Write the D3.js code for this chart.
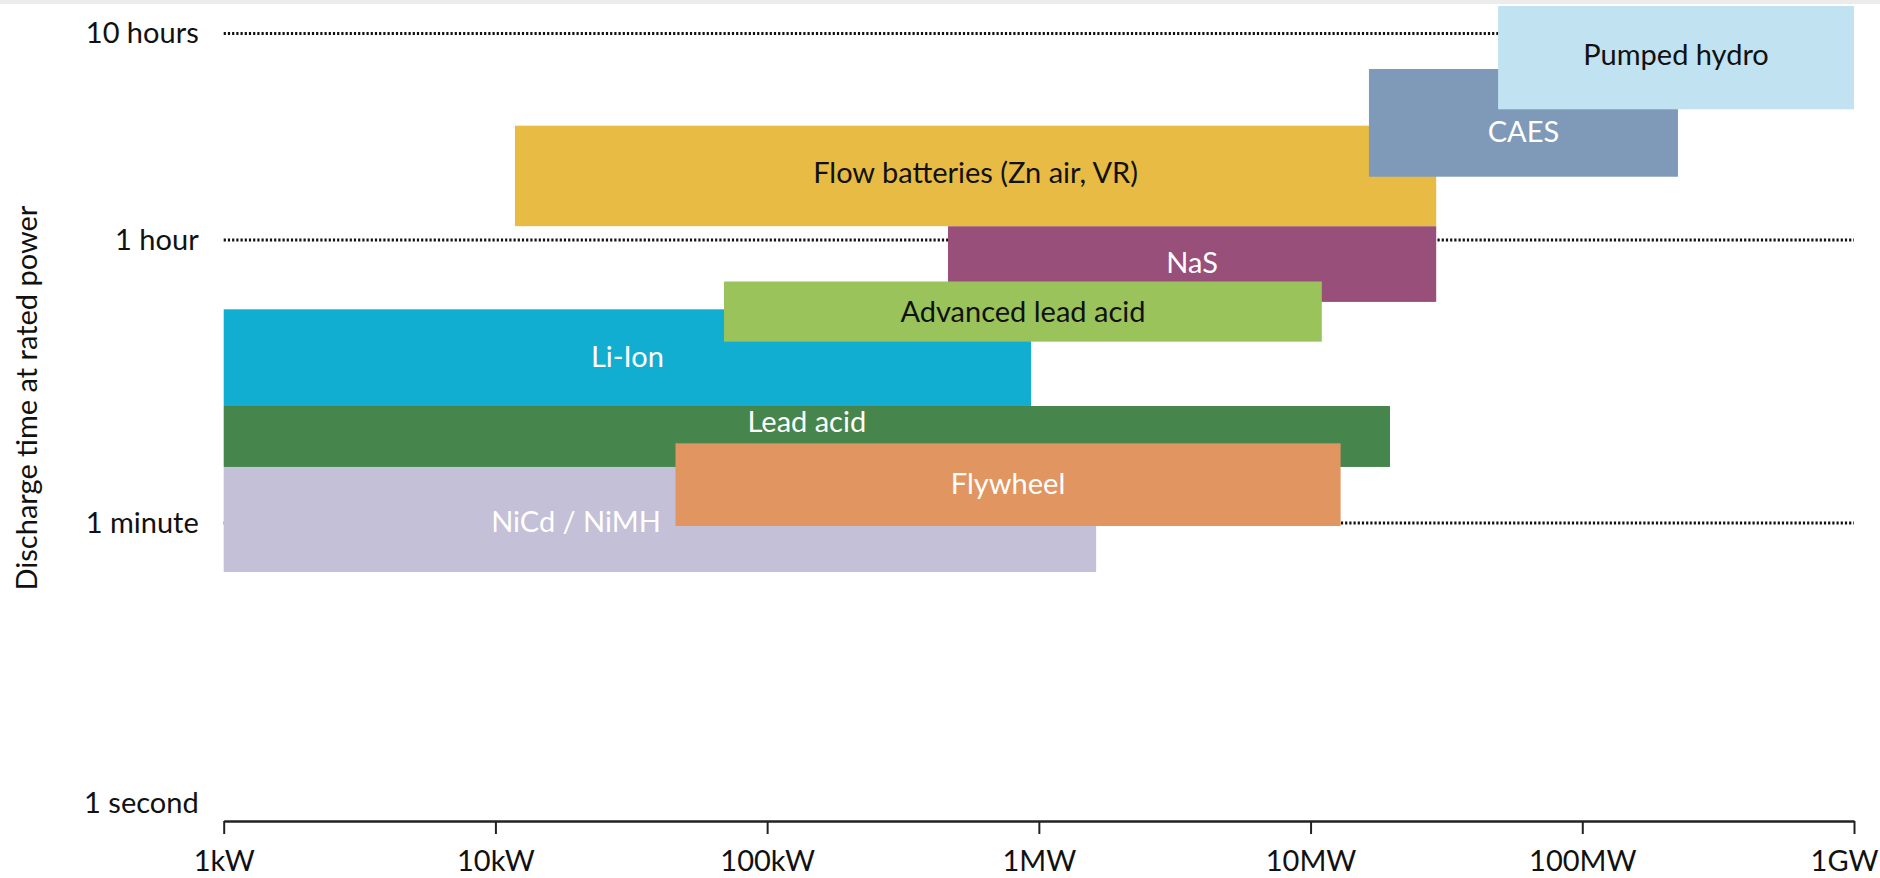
<!DOCTYPE html>
<html>
<head>
<meta charset="utf-8">
<script src="https://cdn.jsdelivr.net/npm/d3@7"></script>
<style>
  html, body { margin: 0; padding: 0; background: #ffffff; }
  svg { display: block; font-family: Lato, "Open Sans", sans-serif; }
</style>
</head>
<body>
<svg id="chart" width="1880" height="878"></svg>
<script>
// ---- data ----
const technologies = ["NiCd / NiMH", "Lead acid", "Flywheel", "Li-Ion", "NaS", "Advanced lead acid", "Flow batteries (Zn air, VR)", "CAES", "Pumped hydro"];
// power range, kW
const powerMin = [1, 1, 46, 1, 463, 69.4, 11.8, 16400, 49000];
const powerMax = [1625, 19600, 12900, 936, 29000, 11000, 29000, 225000, 1000000];
// discharge time range, seconds
const timeMin = [29.3, 135, 57.4, 326, 1470, 827, 4200, 7290, 15460];
const timeMax = [135, 326, 190, 1321, 4200, 1975, 12880, 24230, 48930];
// label anchors (data units)
const labelPower = [19.8, null, null, null, null, null, null, null, null];
const labelTime = [61, 259, 105.5, 662, 2580, 1270, 7600, 12000, 28330];
const barColors = ["#C4C0D7", "#46854C", "#E19560", "#12AED1", "#984F79", "#9AC35B", "#E8BB44", "#7F99B8", "#C0E2F1"];
const labelColors = ["#ffffff", "#ffffff", "#ffffff", "#ffffff", "#ffffff", "#111111", "#111111", "#ffffff", "#111111"];

const xTickValues = [1, 10, 100, 1000, 10000, 100000, 1000000];
const xTickLabels = ["1kW", "10kW", "100kW", "1MW", "10MW", "100MW", "1GW"];
const yTickValues = [1, 60, 3600, 36000];
const yTickLabels = ["1 second", "1 minute", "1 hour", "10 hours"];
const gridValues = [60, 3600, 36000];
const yTitle = "Discharge time at rated power";

// ---- layout ----
const svg = d3.select("#chart");
const W = 1880;
const left = 223.7, right = 1854, axisY = 821;
const FS = 29;

const x = d3.scaleLog().domain([1, 1000000]).range([left, right]);
const y = d3.scaleLog().domain([1, 60, 3600, 36000]).range([803, 523, 240, 33.5]);

// top strip artifact
svg.append("rect").attr("x", 0).attr("y", 0).attr("width", W).attr("height", 4).attr("fill", "#ececec");

// grid lines (dotted)
svg.append("g").selectAll("line").data(gridValues).join("line")
  .attr("x1", left).attr("x2", right)
  .attr("y1", d => y(d)).attr("y2", d => y(d))
  .attr("stroke", "#111").attr("stroke-width", 3)
  .attr("stroke-dasharray", "2.2 2");

// bars
const rows = technologies.map((t, i) => ({
  name: t, p0: powerMin[i], p1: powerMax[i], t0: timeMin[i], t1: timeMax[i],
  lp: labelPower[i], lt: labelTime[i], color: barColors[i], tc: labelColors[i]
}));

svg.append("g").selectAll("rect").data(rows).join("rect")
  .attr("x", d => x(d.p0))
  .attr("width", d => x(d.p1) - x(d.p0))
  .attr("y", d => y(d.t1))
  .attr("height", d => y(d.t0) - y(d.t1))
  .attr("fill", d => d.color);

svg.append("g").selectAll("text").data(rows).join("text")
  .attr("x", d => d.lp ? x(d.lp) : (x(d.p0) + x(d.p1)) / 2)
  .attr("y", d => y(d.lt))
  .attr("dy", "0.35em")
  .attr("text-anchor", "middle")
  .attr("font-size", FS)
  .attr("fill", d => d.tc)
  .text(d => d.name);

// x axis
const xAxis = d3.axisBottom(x)
  .tickValues(xTickValues)
  .tickFormat((d, i) => xTickLabels[i])
  .tickSize(13).tickSizeOuter(0).tickPadding(16);
const gx = svg.append("g").attr("transform", `translate(0,${axisY})`).call(xAxis);
gx.select(".domain").attr("stroke", "#222").attr("stroke-width", 2.5);
gx.selectAll(".tick line").attr("stroke", "#222").attr("stroke-width", 2);
gx.selectAll(".tick text").attr("font-size", FS).attr("fill", "#111").attr("font-family", "Lato, 'Open Sans', sans-serif");
// keep the last label inside the picture
gx.selectAll(".tick text").each(function(d) {
  const bb = this.getBBox();
  const absRight = x(d) + bb.x + bb.width;
  if (absRight > W - 2) d3.select(this).attr("x", (W - 2) - absRight);
});

// y axis labels
const yAxis = d3.axisLeft(y)
  .tickValues(yTickValues)
  .tickFormat((d, i) => yTickLabels[i])
  .tickSize(0).tickPadding(25);
const gy = svg.append("g").attr("transform", `translate(${left},0)`).call(yAxis);
gy.select(".domain").remove();
gy.selectAll(".tick text").attr("font-size", FS).attr("fill", "#111").attr("font-family", "Lato, 'Open Sans', sans-serif");

// y axis title
svg.append("text")
  .attr("transform", `translate(27,398) rotate(-90)`)
  .attr("text-anchor", "middle")
  .attr("dy", "0.35em")
  .attr("font-size", FS)
  .attr("fill", "#111")
  .text(yTitle);
</script>
</body>
</html>
